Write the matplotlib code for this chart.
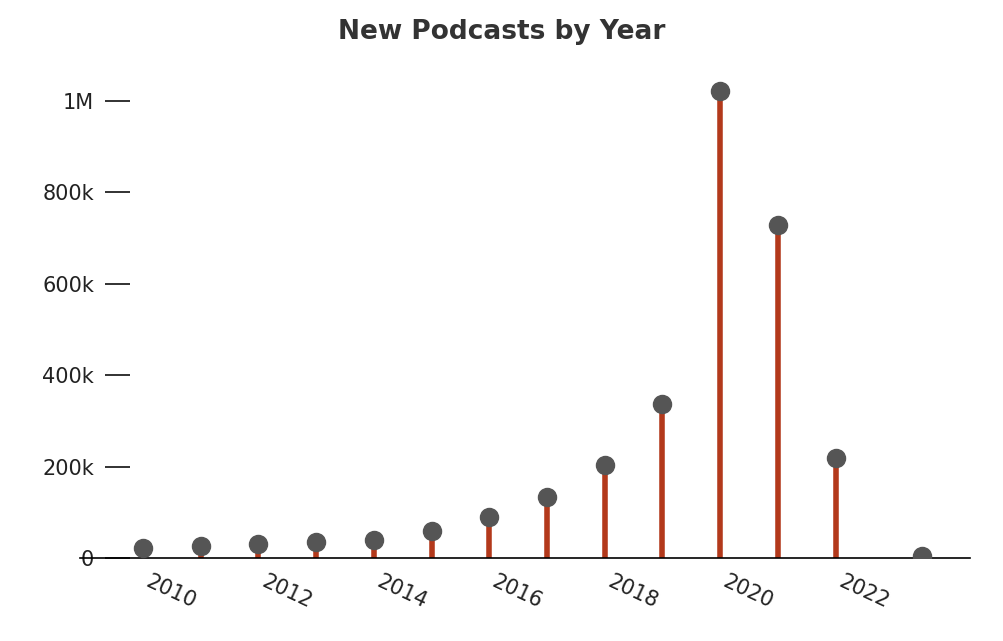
import matplotlib.pyplot as plt

# values
years = [2010, 2011, 2012, 2013, 2014, 2015, 2016, 2017, 2018, 2019, 2020, 2021, 2022, 2023.5]
counts = [22000, 26000, 31000, 35000, 39000, 59000, 90000, 133000, 203000, 337000,
          1022000, 729000, 219000, 4000]
tick_years = [2010, 2012, 2014, 2016, 2018, 2020, 2022]
y_ticks = [0, 200000, 400000, 600000, 800000, 1000000]
y_labels = ["0", "200k", "400k", "600k", "800k", "1M"]

fig = plt.figure(figsize=(10.04, 6.41), dpi=100)
ax = fig.add_axes([130 / 1004, (641 - 558) / 641, 840 / 1004, (558 - 60) / 641])

ax.vlines(years, 0, counts, color="#b3391b", linewidth=4, zorder=2)
ax.plot(years, counts, "o", color="#555555", markersize=13, zorder=3)

ax.set_xlim(2009.775, 2024.33)
ax.set_ylim(0, 1089700)
for s in ax.spines.values():
    s.set_visible(False)
# baseline extends left past the tick marks
ax.plot([-50 / 840, 1], [0, 0], transform=ax.transAxes, color="black", lw=1.2, clip_on=False)

ax.set_yticks(y_ticks, y_labels)
ax.set_xticks(tick_years, [str(y) for y in tick_years])
ax.tick_params(axis="y", length=18, width=1.3, pad=8, labelsize=15, colors="#222222")
ax.tick_params(axis="x", length=0, pad=10, labelsize=15, labelrotation=-25, colors="#222222")
for lbl in ax.get_xticklabels():
    lbl.set_ha("left")

fig.suptitle("New Podcasts by Year", y=0.97, fontsize=19, fontweight="bold", color="#333333")
fig.savefig("out.png", dpi=100)
